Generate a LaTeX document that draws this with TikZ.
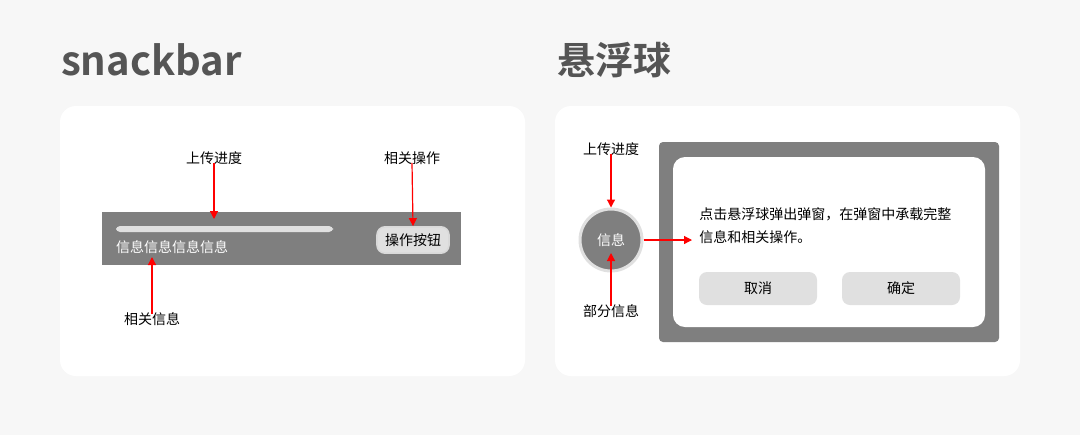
\documentclass[tikz,border=0pt]{standalone}
\usepackage{fontspec}
\setmainfont{Noto Sans CJK SC}
\newfontfamily\titlefont{Noto Sans CJK SC Bold}
\usetikzlibrary{arrows.meta}
\definecolor{pagebg}{HTML}{F7F7F7}
\definecolor{bargray}{HTML}{7F7F7F}
\definecolor{btngray}{HTML}{E0E0E0}
\definecolor{titlegray}{HTML}{555555}
\tikzset{
	card/.style={fill=white, rounded corners=8pt, draw=none},
	lbl/.style={font=\fontsize{7}{8}\selectfont, text=black, inner sep=1pt},
	redarrow/.style={draw=red, line width=0.6pt, -{Triangle[length=4pt,width=4pt]}},
	btn/.style={fill=btngray, rounded corners=4pt, font=\fontsize{7}{8}\selectfont},
}
\begin{document}
\begin{tikzpicture}[x=0.5pt, y=-0.5pt]
	\fill[pagebg] (0,0) rectangle (1080,435);
	\useasboundingbox (0,0) rectangle (1080,435);

	%titles
	\node[anchor=west, text=titlegray, font=\titlefont\fontsize{20}{22}\selectfont] (snacktitle) at (54,60) {snackbar};
	\node[anchor=west, text=titlegray, font=\titlefont\fontsize{19}{22}\selectfont] (floattitle) at (550,60) {悬浮球};

	%left card
	\draw[card] (60,106) rectangle (525,376);
	\fill[bargray] (102,212) rectangle (461,265);
	\fill[btngray, rounded corners=2pt] (116,226) rectangle (333,232);
	\node[anchor=west, text=white, font=\fontsize{7}{8}\selectfont] (info) at (109,247) {信息信息信息信息};
	\node[btn, draw=white!70!gray, line width=0.8pt, minimum width=36pt, minimum height=13pt] (action) at (413,240) {操作按钮};
	\coordinate (barpos) at (214,219);

	\node[lbl] (upload) at (214,158) {上传进度};
	\node[lbl] (relop) at (412,158) {相关操作};
	\node[lbl] (relinfo) at (152,319) {相关信息};
	\draw[redarrow] (upload.south) ++(0,-4) -- (barpos);
	\draw[redarrow] (relop.south) ++(0,-4) -- (action.north);
	\draw[redarrow] (relinfo.north) ++(0,4) -- (152,257);

	%right card
	\draw[card] (555,106) rectangle (1020,376);
	\fill[bargray, rounded corners=2pt] (659,142) rectangle (999,342);
	\fill[white, rounded corners=6pt] (673,157) rectangle (985,327);

	\node[circle, fill=bargray, draw=btngray, line width=1.5pt, minimum size=31pt, text=white, font=\fontsize{7}{8}\selectfont] (ball) at (611,240) {信息};
	\node[lbl] (upload2) at (611,149) {上传进度};
	\node[lbl] (part) at (611,311) {部分信息};
	\draw[redarrow] (upload2.south) ++(0,-4) -- (ball.north);
	\draw[redarrow] (part.north) ++(0,4) -- (611,253);
	\coordinate (popup) at (692,240);
	\draw[redarrow] (ball.east) -- (popup);

	\node[anchor=north west, lbl, align=left, font=\fontsize{7}{11.5}\selectfont] (desc) at (697,205) {点击悬浮球弹出弹窗，在弹窗中承载完整\\信息和相关操作。};
	\node[btn, minimum width=59pt, minimum height=16.5pt] (cancel) at (758,288.5) {取消};
	\node[btn, minimum width=59pt, minimum height=16.5pt] (ok) at (901,288.5) {确定};
\end{tikzpicture}
\end{document}
